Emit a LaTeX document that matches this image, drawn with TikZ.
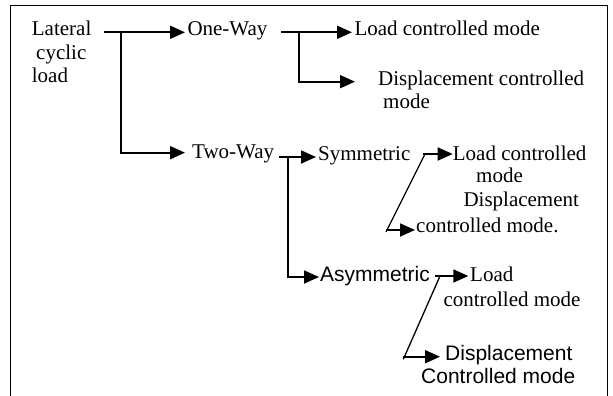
\documentclass[tikz,border=0pt]{standalone}
\usepackage{fontspec}
\setmainfont{Liberation Serif}
\newfontfamily\arialfont{Liberation Sans}
\usetikzlibrary{arrows.meta,calc}
\begin{document}
\begin{tikzpicture}[x=1pt,y=-1pt,
  lbl/.style={anchor=base west,inner sep=0pt,font=\fontsize{21}{23.5}\selectfont},
  sans/.style={lbl,font=\arialfont\fontsize{21}{23.5}\selectfont},
  ln/.style={line width=1.8pt},
  arr/.style={ln,-{Triangle[length=15pt,width=13pt]}},
  sl/.style={line width=1.3pt}]
\useasboundingbox (0,0) rectangle (613,396);
% frame (open at the bottom)
\draw[line width=1.6pt] (10.3,410) -- (10.3,5.7) -- (607.3,5.7) -- (607.3,410);
% labels
\node[lbl] (lat) at (31.7,36) {\vtop{\hbox{Lateral}\hbox{\hspace*{4.3pt}cyclic}\hbox{load}}};
\node[lbl] (one) at (187.3,36) {One-Way};
\node[lbl] (two) at (192,158) {Two-Way};
\node[lbl] (lcm1) at (354.3,36) {Load controlled mode};
\node[lbl] (dcm1) at (378,85) {\vtop{\hbox{Displacement controlled}\hbox{\hspace*{5pt}mode}}};
\node[lbl] (sym) at (318,160) {Symmetric};
\node[lbl] (lcs) at (452.7,160.7) {\vtop{\hbox{Load controlled}\vskip-2pt\hbox{\hspace*{23.3pt}mode}}};
\node[lbl] (dcs) at (416,206.7) {\vtop{\hbox{\hspace*{47.3pt}Displacement}\vskip2.5pt\hbox{controlled mode.}}};
\node[sans] (asy) at (320,281.7) {Asymmetric};
\node[lbl] (lca) at (443.3,281.7) {\vtop{\hbox{\hspace*{26.7pt}Load}\vskip1.5pt\hbox{controlled mode}}};
\node[sans] (dca) at (421,360) {\vtop{\hbox{\hspace*{24pt}Displacement}\vskip-0.5pt\hbox{Controlled mode}}};
% arrow tips
\coordinate (tOne) at ($(one.base west)+(-2.3,-3.7)$);
\coordinate (tTwo) at ($(two.base west)+(-7,-5.3)$);
\coordinate (tLcm) at ($(lcm1.base west)+(-2.3,-3.7)$);
\coordinate (tDcm) at ($(dcm1.base west)+(-23,-3.3)$);
\coordinate (tSym) at ($(sym.base west)+(-2,-3)$);
\coordinate (tLcs) at ($(lcs.base west)+(0,-6.7)$);
\coordinate (tDcs) at ($(dcs.base west)+(-1,23.3)$);
\coordinate (tAsy) at ($(asy.base west)+(-1,-4.7)$);
\coordinate (tLca) at ($(lca.base west)+(25,-5.7)$);
\coordinate (tDca) at ($(dca.base west)+(19,-3.3)$);
% junctions
\coordinate (a0) at (104,32.3);   \coordinate (a1) at (120.7,32.3);
\coordinate (b0) at (281,32.3);   \coordinate (b1) at (299,32.3);
\coordinate (c0) at (279,157);    \coordinate (c1) at (287.7,157);
\coordinate (d0) at (422.7,154);  \coordinate (d1) at (425,154);  \coordinate (d2) at (386,232);
\coordinate (e0) at (435,276);    \coordinate (e1) at (440,276);  \coordinate (e2) at (403.3,359.3);
% connectors
\draw[arr] (a0) -- (tOne);
\draw[arr] (a1) |- (tTwo);
\draw[arr] (b0) -- (tLcm);
\draw[arr] (b1) |- (tDcm);
\draw[arr] (c0) -- (tSym);
\draw[arr] (c1) |- (tAsy);
\draw[arr] (d0) -- (tLcs);
\draw[sl] (d1) -- (d2);
\draw[arr] (d2 |- tDcs) -- (tDcs);
\draw[arr] (e0) -- (tLca);
\draw[sl] (e1) -- (e2);
\draw[arr] (e2 |- tDca) -- (tDca);
\end{tikzpicture}
\end{document}
